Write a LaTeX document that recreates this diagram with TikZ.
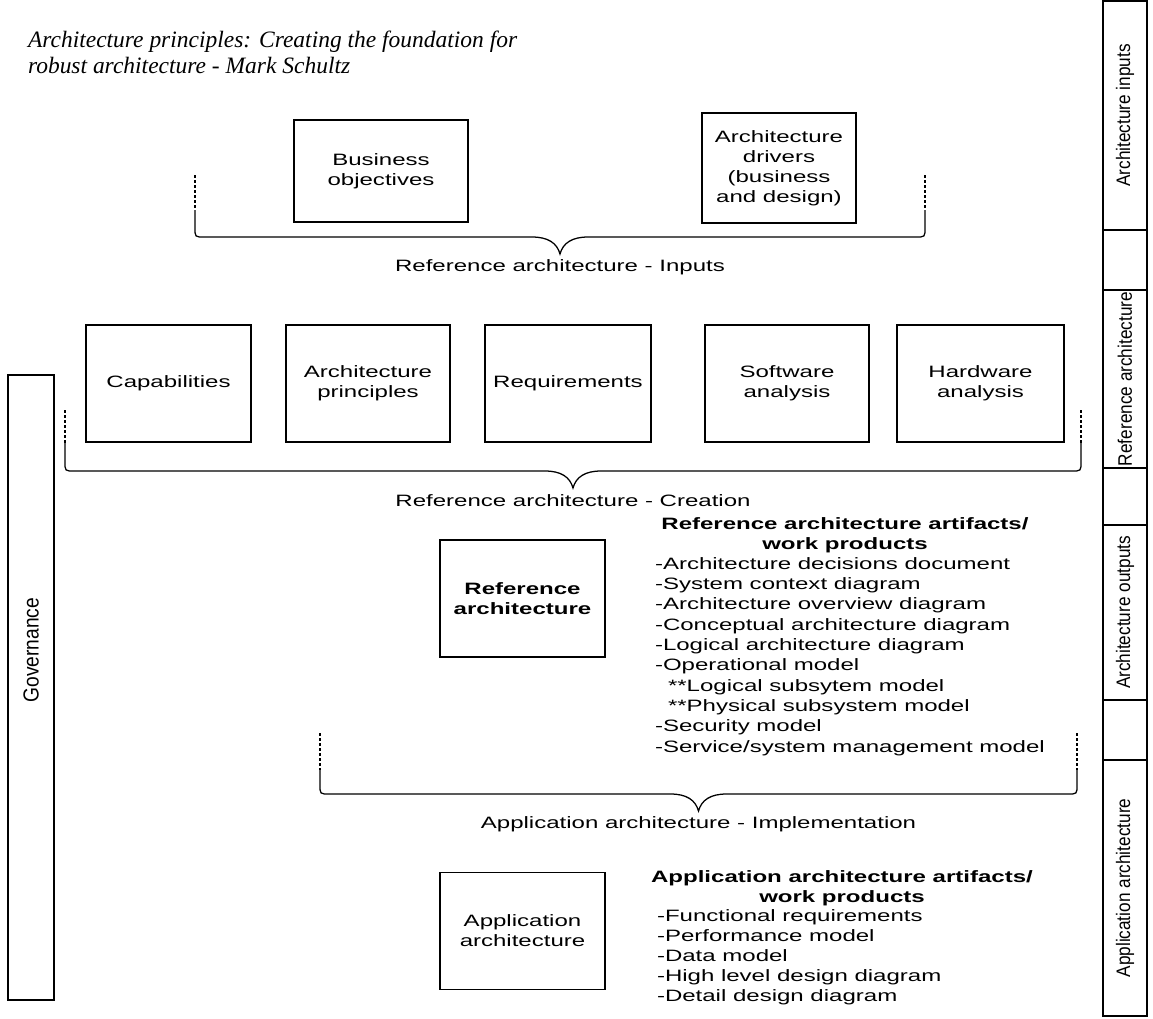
\documentclass[tikz,border=0pt]{standalone}
\usepackage{fontspec}
\setmainfont{Liberation Sans}
\newfontfamily\boxfont[FakeStretch=1.46]{Liberation Sans}
\newfontfamily\sidefont[FakeStretch=0.88]{Liberation Sans}
\newfontfamily\titlefont{Liberation Serif}

\begin{document}
\begin{tikzpicture}[x=0.025cm, y=-0.025cm,
    every node/.style={inner sep=0pt, outer sep=0pt},
    boxsize/.style 2 args={minimum width=(#1)*0.025cm, minimum height=(#2)*0.025cm},
    box/.style={draw, line width=0.9pt, align=center, font=\boxfont\fontsize{11.7pt}{14.2pt}\selectfont},
    bracetext/.style={font=\boxfont\fontsize{11.7pt}{14.2pt}\selectfont},
    listtext/.style={anchor=west, text height=8.5pt, text depth=2.3pt, font=\boxfont\fontsize{11.7pt}{14.2pt}\selectfont},
    headtext/.style={align=center, font=\boxfont\bfseries\fontsize{11.7pt}{14.2pt}\selectfont},
    sidetext/.style={rotate=90, font=\sidefont\fontsize{13.9pt}{16pt}\selectfont},
    dotline/.style={line width=1pt, dash pattern=on 1.8pt off 1.8pt},
    braceline/.style={line width=0.9pt}]
    \useasboundingbox (0,0) rectangle (1153,1019);

    % title
    \node[anchor=base west, font=\titlefont\itshape\fontsize{16.7pt}{18.5pt}\selectfont] (title1) at (28,47) {Architecture principles: Creating the foundation for};
    \node[anchor=base west, font=\titlefont\itshape\fontsize{16.7pt}{18.5pt}\selectfont] (title2) at (28,73) {robust architecture - Mark Schultz};

    % inputs
    \node[box, boxsize={174}{102}] (business) at (381,171) {Business\\objectives};
    \node[box, boxsize={154}{110}] (drivers) at (779,168) {Architecture\\drivers\\(business\\and design)};

    % creation
    \foreach \n/\xl/\xr/\t in {cap/86/251/Capabilities, princ/286/450/{Architecture\\principles}, req/485/651/Requirements, soft/705/869/{Software\\analysis}, hard/897/1064/{Hardware\\analysis}}
        \node[box, boxsize={\xr-\xl}{117}] (\n) at ({(\xl+\xr)/2},383.5) {\t};

    % braces
    \foreach \n/\xl/\xr/\ya/\yb/\yh/\txt in {inputs/195/925/175/210/237/Reference architecture - Inputs, creation/65/1081/410/443/471/Reference architecture - Creation, impl/320/1077/733/770/794/Application architecture - Implementation}{
        \pgfmathsetmacro{\m}{(\xl+\xr)/2}
        \draw[dotline] (\xl,\ya) -- (\xl,\yb);
        \draw[dotline] (\xr,\ya) -- (\xr,\yb);
        \draw[braceline] (\xl,\yb) -- (\xl,\yh-9) .. controls (\xl,\yh) .. (\xl+9,\yh) -- (\m-28,\yh)
            .. controls (\m-12,\yh) and (\m-3,\yh+6) .. (\m,\yh+17)
            .. controls (\m+3,\yh+6) and (\m+12,\yh) .. (\m+28,\yh) -- (\xr-9,\yh)
            .. controls (\xr,\yh) .. (\xr,\yh-9) -- (\xr,\yb);
        \node[bracetext] (lab-\n) at (\m,\yh+30) {\txt};
    }

    % reference architecture
    \node[box, boxsize={165}{117}, font=\boxfont\bfseries\fontsize{11.7pt}{14.2pt}\selectfont] (refarch) at (522.5,598.5) {Reference\\architecture};
    \node[headtext] (refhead) at (845,535) {Reference architecture artifacts/\\work products};
    \foreach \xo/\t [count=\i from 0] in {0/-Architecture decisions document, 0/-System context diagram, 0/-Architecture overview diagram, 0/-Conceptual architecture diagram, 0/-Logical architecture diagram, 0/-Operational model, 13/**Logical subsytem model, 13/**Physical subsystem model, 0/-Security model, 0/{-Service/system management model}}
        \node[listtext] (ref-\i) at (655+\xo,565+20.3*\i) {\t};

    % application architecture
    \node[box, boxsize={165}{117}] (apparch) at (522.5,931) {Application\\architecture};
    \node[headtext] (apphead) at (842,888) {Application architecture artifacts/\\work products};
    \foreach \t [count=\i from 0] in {-Functional requirements, -Performance model, -Data model, -High level design diagram, -Detail design diagram}
        \node[listtext] (app-\i) at (657,917+20*\i) {\t};

    % governance
    \node[draw, line width=0.9pt, boxsize={46}{625}] (gov) at (31,687.5) {};
    \node[sidetext, font=\sidefont\fontsize{15.5pt}{17pt}\selectfont] (govtext) at (31,650) {Governance};

    % side column
    \foreach \n/\ya/\yb in {c1/1/230, c2/230/290, c3/290/468, c4/468/525, c5/525/700, c6/700/760, c7/760/1016}
        \node[draw, line width=0.9pt, boxsize={44}{\yb-\ya}] (\n) at (1125,{(\ya+\yb)/2}) {};
    \node[sidetext] (side1) at (c1) {Architecture inputs};
    \node[sidetext] (side3) at (c3) {Reference architecture};
    \node[sidetext] (side5) at (c5) {Architecture outputs};
    \node[sidetext] (side7) at (c7) {Application architecture};
\end{tikzpicture}
\end{document}
